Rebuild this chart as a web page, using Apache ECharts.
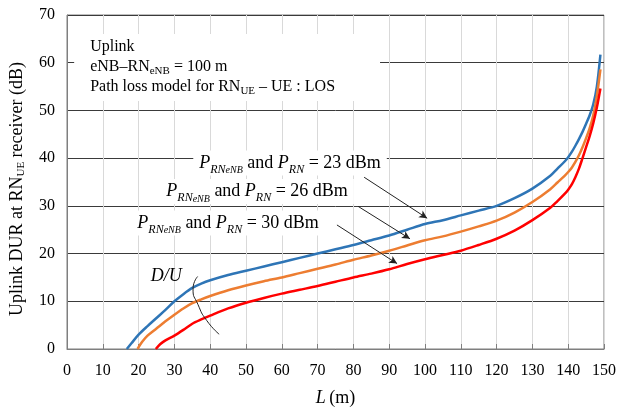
<!DOCTYPE html>
<html><head><meta charset="utf-8">
<script src="https://cdn.jsdelivr.net/npm/echarts@6/dist/echarts.min.js"></script>
<style>html,body{margin:0;padding:0;background:#fff}#c{width:619px;height:412px}</style>
</head><body><div id="c"></div>
<script>
// L (m) and D/U (dB) for each transmit power
const p23 = [[16.7,0],[18,1.2],[20,3],[22.5,4.8],[25,6.5],[27.5,8.2],[30,10],[32.5,11.5],[35,12.8],[37.5,13.7],[40,14.4],[45,15.5],[50,16.4],[55,17.3],[60,18.2],[65,19.1],[70,20],[75,20.9],[80,21.8],[85,22.8],[90,23.8],[95,25],[100,26.2],[105,27],[110,28],[115,29],[120,30],[125,31.6],[130,33.6],[135,36.3],[137,37.8],[139,39.3],[140,40.2],[141,41.3],[142,42.6],[143,44],[144,45.5],[145,47.2],[146,49],[147,51.3],[148,55],[149,61.7]];
const p26 = [[19.7,0],[21,1.5],[22.5,2.8],[25,4.3],[27.5,5.8],[30,7.2],[32.5,8.5],[35,9.6],[37.5,10.4],[40,11.1],[45,12.3],[50,13.3],[55,14.2],[60,15.0],[65,15.9],[70,16.8],[75,17.7],[80,18.7],[85,19.6],[90,20.6],[95,21.7],[100,22.8],[105,23.6],[110,24.6],[115,25.7],[120,26.9],[125,28.6],[130,30.8],[135,33.5],[137,34.9],[139,36.3],[140,37.1],[141,38],[142,39.2],[143,40.6],[144,42.3],[145,44.2],[146,46.3],[147,49],[148,53],[149,58.6]];
const p30 = [[24.8,0],[26,1.0],[27.5,1.8],[30,2.8],[32.5,4.0],[35,5.3],[37.5,6.2],[40,7.0],[45,8.5],[50,9.7],[55,10.7],[60,11.6],[65,12.4],[70,13.2],[75,14.1],[80,15.0],[85,15.8],[90,16.7],[95,17.8],[100,18.8],[105,19.7],[110,20.6],[115,21.8],[120,23.1],[125,24.8],[130,27.0],[135,29.6],[137,31],[139,32.5],[140,33.4],[141,34.5],[142,36],[143,37.8],[144,40],[145,42.3],[146,44.6],[147,47.3],[148,50.6],[149,54.6]];
const duArc = [[36.5,15.2],[35.2,12.6],[36.6,9.3],[39,6],[42.5,3.1]];
const arrows = [
  [[83,36],[100.6,27.4]],
  [[81.3,29.9],[95.8,23.1]],
  [[75.4,26],[92.2,17.9]]
];
const labelPos = [[62.3,39.0],[53.1,33.0],[45,26.4]];
const powers = ['23','26','30'];

const FONT = 'Liberation Serif';
const chart = echarts.init(document.getElementById('c'));
const rich = {
  n:{fontFamily:FONT,fontSize:18,color:'#000'},
  it:{fontFamily:FONT,fontSize:18,fontStyle:'italic',color:'#000'},
  s:{fontFamily:FONT,fontSize:12,fontStyle:'italic',color:'#000',verticalAlign:'bottom',padding:[11,0,0,0]},
  ss:{fontFamily:FONT,fontSize:10,fontStyle:'italic',color:'#000',verticalAlign:'bottom',padding:[15,0,0,0]}
};
const lineSeries = (name, data, color) => ({
  type:'line', name, data, showSymbol:false, symbol:'none', smooth:0.3,
  lineStyle:{color, width:2.5}, z:3
});
chart.setOption({
  animation:false,
  grid:{left:66,right:15,top:15,bottom:60,show:true,borderColor:'#7f7f7f',borderWidth:1},
  xAxis:{type:'value',min:0,max:150,interval:10,
    name:'{it|L} {n|(m)}',nameLocation:'middle',nameGap:40,
    nameTextStyle:{rich:{it:{fontFamily:FONT,fontSize:18,fontStyle:'italic',color:'#000'},n:{fontFamily:FONT,fontSize:18,color:'#000'}}},
    axisLine:{lineStyle:{color:'#7f7f7f'}},
    axisTick:{inside:true,length:5,lineStyle:{color:'#7f7f7f'}},
    axisLabel:{fontFamily:FONT,fontSize:16,color:'#000',margin:14},
    splitLine:{show:true,lineStyle:{color:'#d9d9d9',width:1}}
  },
  yAxis:{type:'value',min:0,max:70,interval:10,
    name:'{n|Uplink DUR at RN}{s|UE}{n| receiver (dB)}',nameLocation:'middle',nameGap:40,
    nameTextStyle:{padding:[0,14,0,0],rich:{n:{fontFamily:FONT,fontSize:18,color:'#000'},s:{fontFamily:FONT,fontSize:11,color:'#000',verticalAlign:'bottom',padding:[9,0,0,0]}}},
    axisLine:{show:true,lineStyle:{color:'#7f7f7f'}},
    axisTick:{show:false},
    axisLabel:{fontFamily:FONT,fontSize:16,color:'#000',margin:12},
    splitLine:{show:true,lineStyle:{color:'#3a3a3a',width:1}}
  },
  series:[
    lineSeries('23 dBm', p23, '#2e75b6'),
    lineSeries('26 dBm', p26, '#ed7d31'),
    lineSeries('30 dBm', p30, '#ff0000'),
    {type:'line',data:duArc,smooth:0.6,symbol:'none',lineStyle:{color:'#222',width:1},z:4,silent:true},
    {type:'line',data:[],symbol:'none',silent:true,
      markLine:{silent:true,symbol:['none','arrow'],symbolSize:[6,8],
        lineStyle:{color:'#222',width:1,type:'solid'},label:{show:false},
        data:arrows.map(a=>[{coord:a[0]},{coord:a[1]}])}
    }
  ]
});

const gr = [];
labelPos.forEach((p,i)=>{
  const px = chart.convertToPixel({gridIndex:0}, p);
  gr.push({type:'text',x:px[0],y:px[1],z:10,
    style:{text:'{it|P}{s|RN}{ss|eNB}{n| and }{it|P}{s|RN}{n| = '+powers[i]+' dBm}',rich,
      align:'center',verticalAlign:'middle',backgroundColor:'#fff',padding:[0,6,0,6]}});
});
const du = chart.convertToPixel({gridIndex:0},[27.7,15.2]);
gr.push({type:'text',x:du[0],y:du[1],z:10,style:{text:'D/U',font:'italic 18px '+FONT,fill:'#000',align:'center',verticalAlign:'middle'}});
const tb = chart.convertToPixel({gridIndex:0},[2,66]);
const trich = {
  n:{fontFamily:FONT,fontSize:16,color:'#000',lineHeight:20},
  s:{fontFamily:FONT,fontSize:11,color:'#000',verticalAlign:'bottom',padding:[9,0,0,0],lineHeight:20}
};
gr.push({type:'text',x:tb[0],y:tb[1],z:10,
  style:{text:'{n|Uplink}\n{n|eNB–RN}{s|eNB}{n| = 100 m}\n{n|Path loss model for RN}{s|UE}{n| – UE : LOS}',rich:trich,
    backgroundColor:'#fff',padding:[3,45,4,16]}});
chart.setOption({graphic:gr});
</script></body></html>
